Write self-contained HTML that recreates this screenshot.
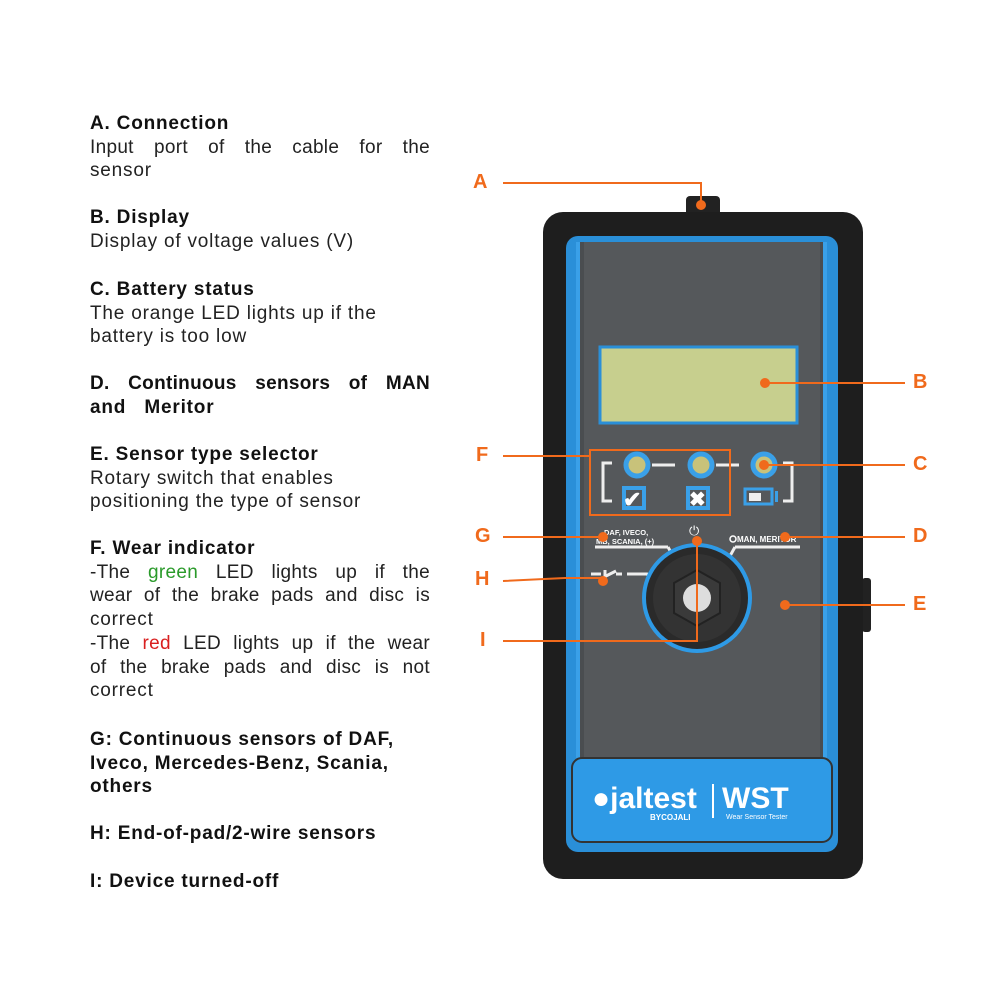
<!DOCTYPE html>
<html><head><style>
body{margin:0;width:1000px;height:1000px;background:#fff;position:relative;overflow:hidden;font-family:"Liberation Sans",sans-serif;}
.t{position:absolute;left:90px;width:340px;font-size:19px;line-height:23.7px;color:#222;letter-spacing:0.8px}
.t div{white-space:nowrap}
.t .j{text-align:justify;text-align-last:justify;letter-spacing:0.3px}
.t b{font-weight:bold;color:#111}
.lab{position:absolute;color:#f06a1c;font-weight:bold;font-size:20px}
</style></head><body>
<div class="t" style="top:112px"><div><b>A. Connection</b></div><div class="j">Input port of the cable for the</div><div>sensor</div></div>
<div class="t" style="top:206px"><div><b>B. Display</b></div><div>Display of voltage values (V)</div></div>
<div class="t" style="top:278px"><div><b>C. Battery status</b></div><div>The orange LED lights up if the</div><div>battery is too low</div></div>
<div class="t" style="top:372px"><div class="j"><b>D. Continuous sensors of MAN</b></div><div><b>and &nbsp;&nbsp;Meritor</b></div></div>
<div class="t" style="top:443px"><div><b>E. Sensor type selector</b></div><div>Rotary switch that enables</div><div>positioning the type of sensor</div></div>
<div class="t" style="top:537px"><div><b>F. Wear indicator</b></div><div class="j">-The <span style="color:#2a9a2a">green</span> LED lights up if the</div><div class="j">wear of the brake pads and disc is</div><div>correct</div><div class="j">-The <span style="color:#d92020">red</span> LED lights up if the wear</div><div class="j">of the brake pads and disc is not</div><div>correct</div></div>
<div class="t" style="top:728px"><div><b>G: Continuous sensors of DAF,</b></div><div><b>Iveco, Mercedes-Benz, Scania,</b></div><div><b>others</b></div></div>
<div class="t" style="top:822px"><div><b>H: End-of-pad/2-wire sensors</b></div></div>
<div class="t" style="top:870px"><div><b>I: Device turned-off</b></div></div>

<svg width="1000" height="1000" style="position:absolute;left:0;top:0">
<rect x="686" y="196" width="34" height="20" rx="4" fill="#222"/>
<rect x="862" y="578" width="9" height="54" rx="3" fill="#222"/>
<rect x="543" y="212" width="320" height="667" rx="20" fill="#1e1e1e"/>
<rect x="566" y="236" width="272" height="616" rx="12" fill="#2a8fd8"/>
<rect x="577" y="242" width="250" height="516" fill="#4a4d50"/>
<rect x="584" y="242" width="236" height="516" fill="#55585b"/>
<rect x="576" y="242" width="4" height="516" fill="#3aa0e8"/>
<rect x="823" y="242" width="4" height="516" fill="#3aa0e8"/>
<rect x="572" y="758" width="260" height="84" rx="10" fill="#2e9ae6" stroke="#333" stroke-width="2"/>
<rect x="600" y="347" width="197" height="76" fill="#c7cf8e" stroke="#2a8fd8" stroke-width="3"/>
<g fill="#c8c27a" stroke="#3aa0e8" stroke-width="5">
<circle cx="637" cy="465" r="11"/><circle cx="701" cy="465" r="11"/><circle cx="764" cy="465" r="11"/></g>
<g stroke="#eee" stroke-width="3" fill="none">
<line x1="652" y1="465" x2="675" y2="465"/><line x1="716" y1="465" x2="739" y2="465"/>
<path d="M612 463 h-9 v38 h9"/><path d="M783 463 h9 v38 h-9"/>
<line x1="595" y1="547" x2="668" y2="547"/><line x1="735" y1="547" x2="800" y2="547"/>
<path d="M668 547 l10 18"/><path d="M735 547 l-10 18"/>
<path d="M627 574 h20 l10 10"/><path d="M591 574 h10 M605 570 v8 M606 576 l10 -5 M616 574 h6"/>
</g>
<rect x="624" y="488" width="20" height="20" fill="none" stroke="#3aa0e8" stroke-width="4"/>
<text x="623" y="507" fill="#fff" font-size="22" font-weight="bold">✔</text>
<rect x="688" y="488" width="20" height="20" fill="none" stroke="#3aa0e8" stroke-width="4"/>
<text x="689" y="506" fill="#fff" font-size="20" font-weight="bold">✖</text>
<rect x="745" y="489" width="27" height="15" fill="none" stroke="#3aa0e8" stroke-width="3"/>
<rect x="749" y="493" width="12" height="8" fill="#eee"/><rect x="775" y="491" width="3" height="11" fill="#3aa0e8"/>
<text x="604" y="535" fill="#fff" font-size="7.5" font-weight="bold">DAF, IVECO,</text>
<text x="596" y="544" fill="#fff" font-size="7.5" font-weight="bold">MB, SCANIA, (+)</text>
<text x="737" y="542" fill="#fff" font-size="8" font-weight="bold">MAN, MERITOR</text>
<circle cx="733" cy="539" r="3" fill="none" stroke="#fff" stroke-width="1.5"/>
<text x="689" y="535" fill="#fff" font-size="13">⏻</text>
<circle cx="697" cy="598" r="53" fill="#2a2a2a" stroke="#2e9ae6" stroke-width="4"/>
<circle cx="697" cy="598" r="44" fill="#333"/>
<polygon points="697,570 720,583 720,613 697,626 674,613 674,583" fill="#3a3a3a" stroke="#222" stroke-width="2"/>
<circle cx="697" cy="598" r="14" fill="#ddd"/>
<text x="592" y="808" fill="#fff" font-size="30" font-weight="bold">●jaltest</text>
<text x="650" y="820" fill="#fff" font-size="8" font-weight="bold">BYCOJALI</text>
<line x1="713" y1="784" x2="713" y2="818" stroke="#fff" stroke-width="2"/>
<text x="722" y="808" fill="#fff" font-size="30" font-weight="bold">WST</text>
<text x="726" y="819" fill="#fff" font-size="7">Wear Sensor Tester</text>
<g stroke="#f06a1c" stroke-width="2" fill="none">
<path d="M503 183 H701 V205"/><line x1="765" y1="383" x2="905" y2="383"/>
<line x1="764" y1="465" x2="905" y2="465"/><line x1="785" y1="537" x2="905" y2="537"/>
<line x1="785" y1="605" x2="905" y2="605"/>
<line x1="503" y1="456" x2="590" y2="456"/><rect x="590" y="450" width="140" height="65"/>
<line x1="503" y1="537" x2="603" y2="537"/><path d="M503 581 L565 578 H603"/>
<path d="M503 641 H697 V541"/></g>
<g fill="#f06a1c"><circle cx="701" cy="205" r="5"/><circle cx="765" cy="383" r="5"/><circle cx="764" cy="465" r="5"/>
<circle cx="785" cy="537" r="5"/><circle cx="785" cy="605" r="5"/><circle cx="603" cy="537" r="5"/>
<circle cx="603" cy="581" r="5"/><circle cx="697" cy="541" r="5"/></g>
</svg>
<div class="lab" style="left:473px;top:171px">A</div>
<div class="lab" style="left:913px;top:371px">B</div>
<div class="lab" style="left:913px;top:453px">C</div>
<div class="lab" style="left:913px;top:525px">D</div>
<div class="lab" style="left:913px;top:593px">E</div>
<div class="lab" style="left:476px;top:444px">F</div>
<div class="lab" style="left:475px;top:525px">G</div>
<div class="lab" style="left:475px;top:568px">H</div>
<div class="lab" style="left:480px;top:629px">I</div>
</body></html>
